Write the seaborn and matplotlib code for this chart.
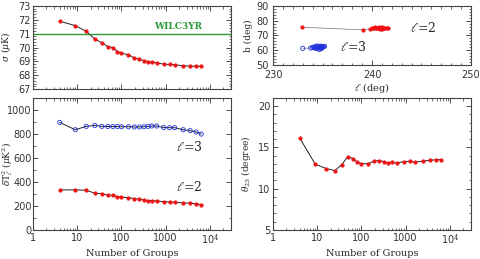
import numpy as np
import pandas as pd
import matplotlib
matplotlib.use("Agg")
import matplotlib.pyplot as plt
import seaborn as sns
from matplotlib.ticker import MultipleLocator, LogLocator, FixedLocator, FixedFormatter, NullFormatter

# ---------------- data ----------------
n_groups = [4, 9, 16, 25, 36, 49, 64, 81, 100, 144, 196, 256, 324, 400, 484,
            625, 900, 1225, 1600, 2500, 3600, 4900, 6400]
sigma = [71.90, 71.58, 71.17, 70.61, 70.34, 70.07, 70.00, 69.71, 69.58, 69.49,
         69.24, 69.17, 69.05, 68.98, 68.93, 68.90, 68.80, 68.78, 68.76, 68.68,
         68.65, 68.65, 68.65]
wilc3yr = 71.0
dT2_l3 = [896, 835, 863, 871, 863, 862, 862, 862, 860, 860, 858, 858, 860, 863,
          866, 866, 854, 852, 852, 835, 827, 816, 799]
dT2_l2 = [334, 334, 331, 306, 303, 290, 290, 276, 273, 270, 261, 256, 250, 245,
          245, 242, 236, 234, 231, 225, 223, 217, 211]
theta23 = [16.14, 12.96, 12.44, 12.20, 12.92, 13.90, 13.65, 13.20, 13.04, 13.04,
           13.36, 13.40, 13.28, 13.10, 13.20, 13.10, 13.28, 13.32, 13.20, 13.36,
           13.44, 13.52, 13.52]
l2_lon = [232.9, 239.1, 239.8, 240.0, 240.2, 240.4, 240.5, 240.6, 240.7, 240.8,
          240.9, 241.0, 241.0, 241.1, 241.2, 240.3, 240.6, 240.9, 241.3, 241.5,
          241.6, 240.1, 240.7]
l2_lat = [75.6, 73.8, 74.6, 74.9, 75.2, 74.8, 75.4, 75.0, 75.6, 74.6, 75.2, 75.5,
          74.3, 75.0, 75.3, 75.7, 74.9, 75.3, 75.1, 74.8, 75.2, 75.3, 74.9]
l3_lon = [233.0, 233.8, 234.0, 234.1, 234.2, 234.3, 234.4, 234.5, 234.5, 234.6,
          234.7, 234.8, 234.8, 234.9, 235.0, 235.1, 234.6, 234.3, 234.9, 235.2,
          234.7, 234.4, 235.0]
l3_lat = [61.3, 61.5, 61.8, 62.2, 61.6, 62.0, 62.4, 61.7, 62.1, 62.6, 61.9, 62.3,
          62.8, 62.1, 62.5, 62.4, 60.8, 61.4, 61.2, 62.7, 60.6, 62.9, 62.0]

xticks_log = [1, 10, 100, 1000, 10000]
xticklabels_log = ["1", "10", "100", "1000", r"10$^4$"]

# ---------------- style ----------------
sns.set_style("ticks")
plt.rcParams["font.family"] = ["DejaVu Sans"]
plt.rcParams.update({
    "xtick.direction": "in", "ytick.direction": "in",
    "xtick.top": True, "ytick.right": True,
    "xtick.major.size": 3.5, "ytick.major.size": 3.5,
    "xtick.minor.size": 1.8, "ytick.minor.size": 1.8,
    "xtick.major.width": 0.6, "ytick.major.width": 0.6,
    "xtick.minor.width": 0.5, "ytick.minor.width": 0.5,
    "axes.linewidth": 0.8, "axes.edgecolor": "#444444",
    "xtick.labelsize": 7, "ytick.labelsize": 7,
    "xtick.color": "#333333", "ytick.color": "#333333",
    "mathtext.fontset": "dejavuserif",
})
LABEL_FONT = dict(family="DejaVu Serif", size=7)
YLAB_FONT = dict(family="DejaVu Serif", size=6.5)

fig = plt.figure(figsize=(4.8, 2.59), dpi=100)
ax1 = fig.add_axes([0.069, 0.656, 0.412, 0.321])
ax2 = fig.add_axes([0.569, 0.749, 0.412, 0.228])
ax3 = fig.add_axes([0.069, 0.112, 0.412, 0.510])
ax4 = fig.add_axes([0.569, 0.112, 0.412, 0.510])

red = "#ee1111"
blue = "#2233dd"
S = 7

def plot_series(ax, x, y, filled=True, color=red, sort=True, lc="#222222", lw=0.7):
    df = pd.DataFrame({"x": x, "y": y})
    sns.lineplot(data=df, x="x", y="y", ax=ax, color=lc, lw=lw, sort=sort,
                 estimator=None, legend=False)
    if filled:
        sns.scatterplot(data=df, x="x", y="y", ax=ax, color=color, s=S,
                        edgecolor=color, linewidth=0.3, legend=False, zorder=3)
    else:
        sns.scatterplot(data=df, x="x", y="y", ax=ax, facecolor="none",
                        edgecolor=color, s=S * 1.3, linewidth=0.6,
                        legend=False, zorder=3)

def setup_log_x(ax, labels=True):
    ax.set_xscale("log")
    ax.set_xlim(1, 3e4)
    ax.xaxis.set_major_locator(FixedLocator(xticks_log))
    ax.xaxis.set_minor_locator(LogLocator(base=10, subs=np.arange(2, 10), numticks=20))
    ax.xaxis.set_minor_formatter(NullFormatter())
    if labels:
        ax.xaxis.set_major_formatter(FixedFormatter(xticklabels_log))
        ax.set_xlabel("Number of Groups", **LABEL_FONT, labelpad=1)
    else:
        ax.xaxis.set_major_formatter(NullFormatter())
        ax.set_xlabel("")

# ---- top-left: sigma ----
plot_series(ax1, n_groups, sigma)
ax1.axhline(wilc3yr, color="#2a9a3a", lw=1.0)
ax1.text(1.9e3, 71.2, "WILC3YR", color="#2a9a3a", fontsize=6.5,
         family="DejaVu Serif", fontweight="bold", ha="center", va="bottom")
setup_log_x(ax1, labels=False)
ax1.set_ylim(67, 73)
ax1.yaxis.set_major_locator(MultipleLocator(1))
ax1.yaxis.set_minor_locator(MultipleLocator(0.2))
ax1.set_ylabel(r"$\sigma$ ($\mu$K)", **YLAB_FONT)
ax1.yaxis.set_label_coords(-0.1, 0.5)

# ---- top-right: l, b ----
plot_series(ax2, l2_lon, l2_lat, filled=True, color=red, sort=False, lc="#777777", lw=0.5)
plot_series(ax2, l3_lon, l3_lat, filled=False, color=blue, sort=False, lc="#777777", lw=0.5)
ax2.set_xlim(230, 250)
ax2.set_ylim(50, 90)
ax2.xaxis.set_major_locator(MultipleLocator(10))
ax2.xaxis.set_minor_locator(MultipleLocator(1))
ax2.yaxis.set_major_locator(MultipleLocator(10))
ax2.yaxis.set_minor_locator(MultipleLocator(2))
ax2.set_xlabel(r"$\ell$ (deg)", **LABEL_FONT, labelpad=0.5)
ax2.set_ylabel("b (deg)", **YLAB_FONT)
ax2.yaxis.set_label_coords(-0.1, 0.5)
ax2.text(243.8, 75.3, r"$\ell$=2", fontsize=9, family="DejaVu Serif", va="center")
ax2.text(236.8, 62.0, r"$\ell$=3", fontsize=9, family="DejaVu Serif", va="center")

# ---- bottom-left: dT2 ----
plot_series(ax3, n_groups, dT2_l3, filled=False, color=blue)
plot_series(ax3, n_groups, dT2_l2, filled=True, color=red)
setup_log_x(ax3)
ax3.set_ylim(0, 1100)
ax3.yaxis.set_major_locator(MultipleLocator(200))
ax3.yaxis.set_minor_locator(MultipleLocator(100))
ax3.set_ylabel(r"$\delta$T$_\ell^2$ ($\mu$K$^2$)", **YLAB_FONT)
ax3.yaxis.set_label_coords(-0.093, 0.5)
ax3.text(3.5e3, 690, r"$\ell$=3", fontsize=9, family="DejaVu Serif", ha="center", va="center")
ax3.text(3.5e3, 360, r"$\ell$=2", fontsize=9, family="DejaVu Serif", ha="center", va="center")

# ---- bottom-right: theta23 ----
plot_series(ax4, n_groups, theta23)
setup_log_x(ax4)
ax4.set_ylim(5, 21)
ax4.yaxis.set_major_locator(MultipleLocator(5))
ax4.yaxis.set_minor_locator(MultipleLocator(1))
ax4.set_ylabel(r"$\theta_{23}$ (degree)", **YLAB_FONT)
ax4.yaxis.set_label_coords(-0.1, 0.5)

for ax in (ax1, ax2, ax4):
    ax.tick_params(which="both", direction="in", top=True, right=True, pad=2)
ax2.tick_params(axis="x", which="both", pad=3.5)
ax2.tick_params(axis="y", which="both", pad=3)
ax3.tick_params(axis="x", which="both", direction="in", top=True, pad=2)
ax3.tick_params(axis="y", which="both", direction="in", right=True, pad=1.2)

fig.savefig("out.png", dpi=100)
